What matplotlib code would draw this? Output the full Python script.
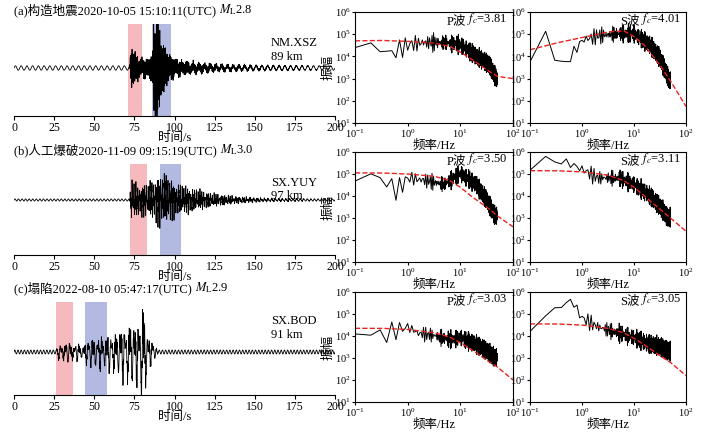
import numpy as np
import matplotlib
matplotlib.use("Agg")
import matplotlib.pyplot as plt

plt.rcParams['font.family'] = ['Liberation Serif', 'Noto Sans CJK SC']
plt.rcParams['mathtext.fontset'] = 'stix'
plt.rcParams['axes.unicode_minus'] = False

W, H = 701, 434

# --- seismogram info ---
TITLES = ["(a)构造地震2020-10-05 15:10:11(UTC) ",
          "(b)人工爆破2020-11-09 09:15:19(UTC) ",
          "(c)塌陷2022-08-10 05:47:17(UTC) "]
MAGS = ["2.8", "3.0", "2.9"]
STATIONS = ["NM.XSZ\n89 km", "SX.YUY\n97 km", "SX.BOD\n91 km"]
P_WIN = [(71, 80), (72, 83), (26, 37)]
S_WIN = [(86, 98), (91, 104), (44, 58)]
NOISE_A = [0.05, 0.03, 0.04]
NOISE_HZ = [0.28, 0.45, 0.5]
# event envelope knots: time (s), amplitude (fraction of upper half panel)
ENV_T = [
    [0, 72, 73, 76, 80, 86, 87, 89, 92, 96, 100, 110, 125, 150, 200],
    [0, 72, 73, 78, 84, 89, 91, 95, 100, 110, 125, 140, 160, 200],
    [0, 26, 28, 35, 42, 48, 55, 62, 70, 78, 80, 84, 90, 200],
]
ENV_A = [
    [0, 0, 0.4, 0.22, 0.15, 0.2, 0.85, 0.95, 0.5, 0.25, 0.15, 0.09, 0.05, 0.02, 0.0],
    [0, 0, 0.45, 0.3, 0.35, 0.45, 0.55, 0.5, 0.35, 0.25, 0.12, 0.06, 0.02, 0.0],
    [0, 0, 0.12, 0.15, 0.1, 0.22, 0.25, 0.3, 0.45, 0.5, 0.85, 0.25, 0.0, 0.0],
]
CARRIER_HZ = [(2.6, 3.7, 7.1), (0.9, 1.7, 4.3), (0.35, 0.7, 2.3)]

# --- spectra: titles, data knots and Brune fit knots (log10 f, log10 A) ---
SPEC_PS = ["P", "S"]
FC = [["3.81", "4.01"], ["3.50", "3.11"], ["3.03", "3.05"]]
DATA_LF = [[[-1, -0.6, -0.3, 0, 0.3, 0.7, 1.0, 1.3, 1.55, 1.7],
            [-1, -0.7, -0.35, 0, 0.3, 0.7, 1.0, 1.3, 1.5, 1.68]],
           [[-1, -0.5, -0.2, 0, 0.3, 0.7, 1.0, 1.3, 1.5, 1.65],
            [-1, -0.6, -0.3, 0, 0.3, 0.7, 1.0, 1.3, 1.5, 1.65]],
           [[-1, -0.5, 0, 0.2, 0.5, 0.8, 1.0, 1.3, 1.5, 1.65],
            [-1, -0.6, -0.2, 0, 0.3, 0.7, 1.0, 1.3, 1.5, 1.65]]]
DATA_LA = [[[4.6, 4.5, 4.2, 4.6, 4.7, 4.7, 4.6, 4.1, 3.7, 3.0],
            [4.3, 4.8, 3.6, 4.8, 5.0, 5.1, 5.1, 4.6, 4.0, 3.0]],
           [[5.0, 4.9, 4.3, 4.9, 4.8, 4.6, 5.1, 4.6, 3.9, 3.2],
            [5.6, 5.7, 5.6, 5.3, 4.9, 4.9, 4.6, 4.1, 3.6, 3.1]],
           [[4.3, 4.1, 4.5, 4.2, 4.1, 3.9, 4.0, 3.7, 3.4, 3.1],
            [4.4, 5.2, 5.7, 4.9, 4.5, 4.2, 4.0, 3.7, 3.6, 3.4]]]
FIT_LF = [-1, -0.5, 0, 0.5, 0.8, 1.0, 1.2, 1.5, 1.7, 2.0]
FIT_LA = [[4.7, 4.72, 4.68, 4.6, 4.45, 4.2, 3.9, 3.4, 3.1, 3.0],
          [4.3, 4.6, 4.85, 5.1, 5.15, 4.9, 4.5, 3.6, 2.9, 1.75],
          [5.05, 5.05, 5.0, 4.9, 4.7, 4.4, 4.0, 3.5, 3.1, 2.6],
          [5.15, 5.15, 5.1, 4.95, 4.7, 4.4, 4.0, 3.4, 3.0, 2.4],
          [4.35, 4.35, 4.3, 4.15, 3.95, 3.7, 3.4, 2.9, 2.6, 2.0],
          [4.55, 4.55, 4.5, 4.35, 4.15, 3.9, 3.6, 3.1, 2.8, 2.2]]

fig = plt.figure(figsize=(W / 100, H / 100), dpi=100)

def rect(x0, y0, x1, y1):
    return [x0 / W, 1 - y1 / H, (x1 - x0) / W, (y1 - y0) / H]

seis_rows = [(24, 116), (164, 255), (302, 395)]
base_px = [68, 200, 352]
spec_rows = [(12, 123), (152, 262), (292, 402)]

t = np.arange(0, 200, 0.05)
for i in range(3):
    y0, y1 = seis_rows[i]
    ax = fig.add_axes(rect(14, y0, 335, y1))
    env = np.interp(t, ENV_T[i], ENV_A[i])
    f1, f2, f3 = CARRIER_HZ[i]
    event = env * (0.5 * np.sin(2 * np.pi * f1 * t) + 0.3 * np.sin(2 * np.pi * f2 * t + 1.3)
                   + 0.35 * np.sin(2 * np.pi * f3 * t + 0.4) * np.cos(0.7 * t))
    noise = NOISE_A[i] * np.sin(2 * np.pi * NOISE_HZ[i] * t)
    frac = (y1 - base_px[i]) / (y1 - y0)
    ax.set_ylim(-frac / (1 - frac), 1)
    ax.axvspan(*P_WIN[i], color='#f4a3a8', alpha=0.75, lw=0)
    ax.axvspan(*S_WIN[i], color='#9aa3d8', alpha=0.75, lw=0)
    ax.plot(t, noise + event / 0.7, color='black', lw=0.6)
    ax.set_xlim(0, 200)
    ax.set_xticks(np.arange(0, 201, 25))
    ax.set_yticks([])
    for s in ['top', 'left', 'right']:
        ax.spines[s].set_visible(False)
    ax.tick_params(axis='x', labelsize=8.5, length=3, pad=1)
    ax.set_xlabel("时间/s", fontsize=9, labelpad=-1)
    ax.text(0.8, 0.72, STATIONS[i], transform=ax.transAxes, fontsize=9, va='center', ha='left')
    tt = fig.text(14 / W, 1 - (y0 - 10) / H, TITLES[i], fontsize=9, va='baseline', ha='left')
    ax.annotate("$M_\\mathrm{L}$" + MAGS[i], xy=(1, 0), xycoords=tt, fontsize=9,
                va='bottom', ha='left', annotation_clip=False)

for i in range(3):
    y0, y1 = spec_rows[i]
    for j, (x0, x1) in enumerate([(355, 513), (530, 686)]):
        ax = fig.add_axes(rect(x0, y0, x1, y1))
        f = np.arange(1, 500) * 0.1
        lf = np.log10(f)
        base = np.interp(lf, DATA_LF[i][j], DATA_LA[i][j])
        jit = (0.25 * np.sin(37.1 * f + i + j) + 0.18 * np.sin(91.7 * f + 2 * j)
               - 0.12 * np.abs(np.sin(13.3 * f)))
        ax.plot(f, 10 ** (base + jit), color='black', lw=0.7)
        ff = np.logspace(-1, 2, 200)
        ax.plot(ff, 10 ** np.interp(np.log10(ff), FIT_LF, FIT_LA[2 * i + j]),
                color='#e8231f', ls='--', lw=1.0)
        ax.set_xscale('log')
        ax.set_yscale('log')
        ax.set_xlim(0.1, 100)
        ax.set_ylim(10, 1e6)
        ax.set_yticks([10.0 ** k for k in range(1, 7)])
        ax.set_xticks([10.0 ** k for k in range(-1, 3)])
        ax.tick_params(labelsize=7.5, pad=1, length=2)
        ax.tick_params(which='minor', length=0)
        lab = ax.text(0.58, 0.97, SPEC_PS[j] + "波", transform=ax.transAxes,
                      ha='left', va='top', fontsize=9)
        ax.annotate("$f_c$=" + FC[i][j], xy=(1, 0), xycoords=lab,
                    xytext=(1, 0), textcoords='offset points',
                    ha='left', va='bottom', fontsize=9)
        ax.set_xlabel("频率/Hz", fontsize=9, labelpad=0)
        if j == 0:
            ax.set_ylabel("振幅", fontsize=9, labelpad=0)

fig.savefig("out.png", dpi=100)
